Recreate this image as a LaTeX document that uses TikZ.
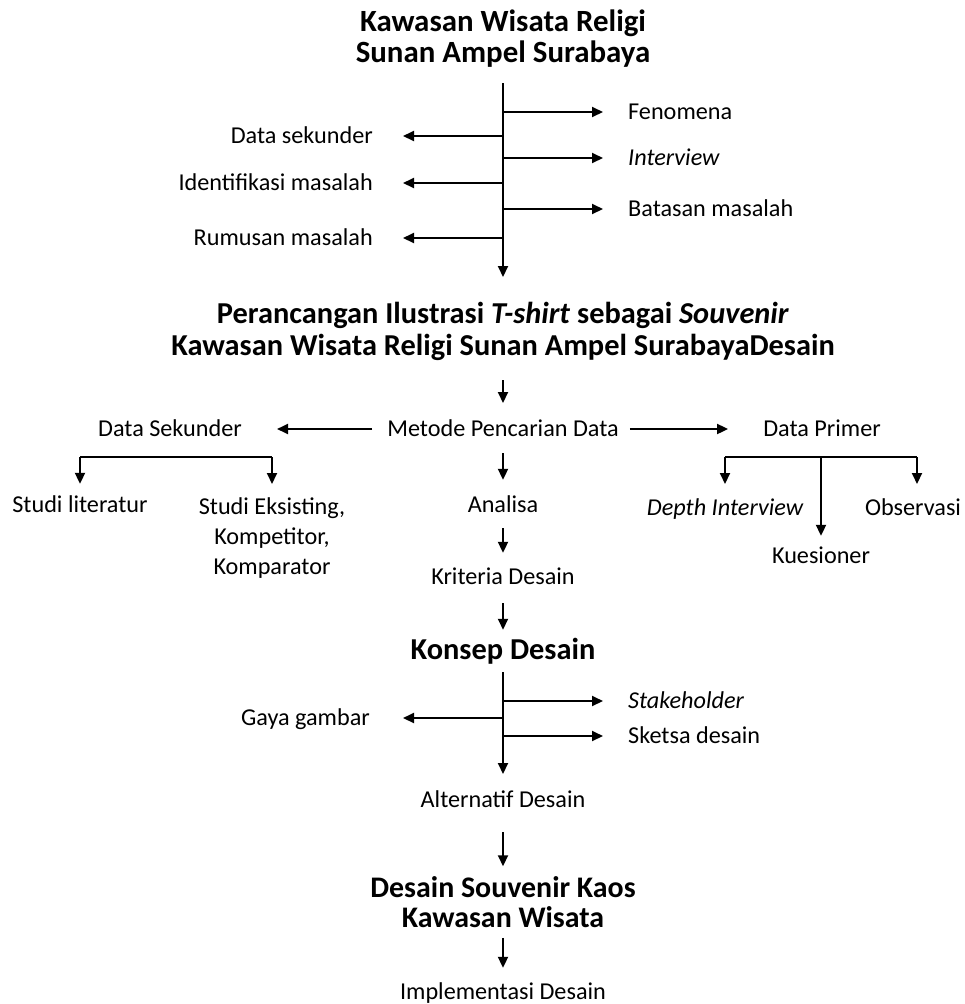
\documentclass[tikz,border=0pt]{standalone}
\usepackage{fontspec}
\setmainfont{Carlito}
\usetikzlibrary{arrows.meta}
\begin{document}
\begin{tikzpicture}[x=1bp,y=-1bp,
  lbl/.style={inner sep=0pt, text height=18bp, text depth=4bp, font=\fontsize{24.3}{30}\selectfont},
  multi/.style={inner sep=0pt, align=center, font=\fontsize{24.3}{30.5}\selectfont},
  ttl/.style={inner sep=0pt, align=center, font=\fontsize{30.5}{31}\selectfont\bfseries},
  ln/.style={line width=2bp},
  arr/.style={line width=2bp, -{Triangle[length=11bp,width=10bp]}}]
\useasboundingbox (0,0) rectangle (965,1004);
% ---- top title
\node[ttl,font=\fontsize{31}{31}\selectfont\bfseries] (t1) at (503,39) {Kawasan Wisata Religi\\Sunan Ampel Surabaya};
\coordinate (s1a) at (503,83);
\coordinate (s1b) at (503,277);
\coordinate (j1) at (503,112);
\coordinate (j2) at (503,136);
\coordinate (j3) at (503,158);
\coordinate (j4) at (503,183);
\coordinate (j5) at (503,209);
\coordinate (j6) at (503,238);
\node[lbl,anchor=west] (f1) at (628,112) {Fenomena};
\node[lbl,anchor=west] (f2) at (628,158) {\itshape Interview};
\node[lbl,anchor=west] (f3) at (628,209) {Batasan masalah};
\node[lbl,anchor=east] (l1) at (373,136) {Data sekunder};
\node[lbl,anchor=east] (l2) at (373,183) {Identifikasi masalah};
\node[lbl,anchor=east] (l3) at (373,238) {Rumusan masalah};
\draw[arr] (s1a) -- (s1b);
\draw[arr,shorten >=25bp] (j1) -- (f1.west);
\draw[arr,shorten >=25bp] (j3) -- (f2.west);
\draw[arr,shorten >=25bp] (j5) -- (f3.west);
\draw[arr,shorten >=30bp] (j2) -- (l1.east);
\draw[arr,shorten >=30bp] (j4) -- (l2.east);
\draw[arr,shorten >=30bp] (j6) -- (l3.east);
% ---- second title
\node[ttl,font=\fontsize{30.5}{32}\selectfont\bfseries] (t2) at (503,331) {Perancangan Ilustrasi \textit{T-shirt} sebagai \textit{Souvenir}\\Kawasan Wisata Religi Sunan Ampel SurabayaDesain};
\coordinate (a2a) at (503,380);
\coordinate (a2b) at (503,403);
\draw[arr] (a2a) -- (a2b);
% ---- method row
\node[lbl] (metode) at (503,429) {Metode Pencarian Data};
\node[lbl] (dsek) at (170,429) {Data Sekunder};
\node[lbl] (dprim) at (822,429) {Data Primer};
\draw[arr,shorten <=15bp,shorten >=35bp] (metode.west) -- (dsek.east);
\draw[arr,shorten <=11bp,shorten >=35bp] (metode.east) -- (dprim.west);
% left branch
\coordinate (bl1) at (80,457);
\coordinate (bl2) at (272,457);
\coordinate (bl2e) at (272,484);
\node[lbl] (studlit) at (80,505) {Studi literatur};
\node[multi,anchor=north] (studeks) at (272,497) {Studi Eksisting,\\Kompetitor,\\Komparator};
\draw[ln] (bl1) -- (bl2);
\draw[arr,shorten >=10bp] (bl1) -- (studlit.north);
\draw[arr] (bl2) -- (bl2e);
% centre column
\node[lbl] (analisa) at (503,505) {Analisa};
\node[lbl] (kriteria) at (503,577) {Kriteria Desain};
\node[ttl] (konsep) at (503,651) {Konsep Desain};
\draw[arr,shorten <=13bp,shorten >=14bp] (metode.south) -- (analisa.north);
\draw[arr,shorten <=12bp,shorten >=13bp] (analisa.south) -- (kriteria.north);
\draw[arr,shorten <=15bp,shorten >=8bp] (kriteria.south) -- (konsep.north);
% right branch
\coordinate (br1) at (725,457);
\coordinate (br2) at (917,457);
\coordinate (brm) at (821,457);
\coordinate (br1e) at (725,484);
\coordinate (br2e) at (917,484);
\node[lbl] (depth) at (725,508) {\itshape Depth Interview};
\node[lbl] (obs) at (913,508) {Observasi};
\node[lbl] (kues) at (821,556) {Kuesioner};
\draw[ln] (br1) -- (br2);
\draw[arr] (br1) -- (br1e);
\draw[arr] (br2) -- (br2e);
\draw[arr,shorten >=9bp] (brm) -- (kues.north);
% ---- concept spine
\coordinate (s2a) at (503,672);
\coordinate (s2b) at (503,774);
\coordinate (k1) at (503,701);
\coordinate (k2) at (503,718);
\coordinate (k3) at (503,736);
\node[lbl,anchor=west] (stake) at (628,701) {\itshape Stakeholder};
\node[lbl,anchor=west] (sketsa) at (628,736) {Sketsa desain};
\node[lbl,anchor=east] (gaya) at (370,718) {Gaya gambar};
\draw[arr] (s2a) -- (s2b);
\draw[arr,shorten >=25bp] (k1) -- (stake.west);
\draw[arr,shorten >=25bp] (k3) -- (sketsa.west);
\draw[arr,shorten >=33bp] (k2) -- (gaya.east);
% ---- bottom
\node[lbl] (alt) at (503,800) {Alternatif Desain};
\node[ttl,font=\fontsize{30}{30}\selectfont\bfseries] (t3) at (503,902) {Desain Souvenir Kaos\\Kawasan Wisata};
\node[lbl] (impl) at (503,992) {Implementasi Desain};
\draw[arr,shorten <=21bp,shorten >=10bp] (alt.south) -- (t3.north);
\draw[arr,shorten <=10bp,shorten >=13bp] (t3.south) -- (impl.north);
\end{tikzpicture}
\end{document}
